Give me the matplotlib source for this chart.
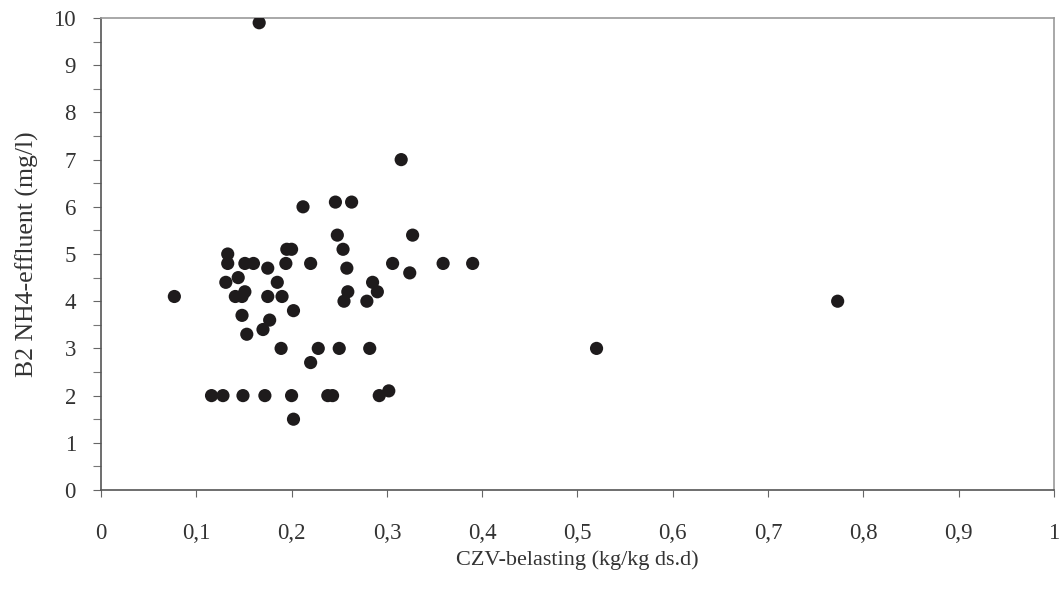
import numpy as np
import matplotlib.pyplot as plt
from matplotlib.ticker import MultipleLocator, FuncFormatter

# CZV-belasting vs B2 NH4-effluent
czv = [0.077, 0.166, 0.212, 0.246, 0.263, 0.315, 0.248, 0.327, 0.254, 0.195,
       0.200, 0.133, 0.133, 0.151, 0.160, 0.175, 0.194, 0.220, 0.258, 0.306,
       0.324, 0.359, 0.390, 0.131, 0.144, 0.185, 0.285, 0.141, 0.151, 0.148,
       0.175, 0.190, 0.290, 0.259, 0.255, 0.279, 0.202, 0.148, 0.177, 0.170,
       0.153, 0.189, 0.228, 0.250, 0.282, 0.220, 0.116, 0.128, 0.149, 0.172,
       0.200, 0.238, 0.243, 0.292, 0.302, 0.202, 0.520, 0.773]
nh4 = [4.1, 9.9, 6.0, 6.1, 6.1, 7.0, 5.4, 5.4, 5.1, 5.1,
       5.1, 5.0, 4.8, 4.8, 4.8, 4.7, 4.8, 4.8, 4.7, 4.8,
       4.6, 4.8, 4.8, 4.4, 4.5, 4.4, 4.4, 4.1, 4.2, 4.1,
       4.1, 4.1, 4.2, 4.2, 4.0, 4.0, 3.8, 3.7, 3.6, 3.4,
       3.3, 3.0, 3.0, 3.0, 3.0, 2.7, 2.0, 2.0, 2.0, 2.0,
       2.0, 2.0, 2.0, 2.0, 2.1, 1.5, 3.0, 4.0]

plt.rcParams['font.family'] = ['Liberation Serif', 'DejaVu Serif']

fig = plt.figure(figsize=(10.64, 5.93), dpi=100)
ax = fig.add_axes([0.0949, 0.1737, 0.8957, 0.7959])

ax.scatter(czv, nh4, s=90, color='#1e1b1c', edgecolors='none', zorder=3)

ax.set_xlim(0, 1)
ax.set_ylim(0, 10)
ax.xaxis.set_major_locator(MultipleLocator(0.1))
ax.yaxis.set_major_locator(MultipleLocator(1))
ax.yaxis.set_minor_locator(MultipleLocator(0.5))

def comma(v, pos):
    s = ('%.1f' % v).rstrip('0').rstrip('.')
    return s.replace('.', ',')

ax.xaxis.set_major_formatter(FuncFormatter(comma))
ax.tick_params(axis='x', which='major', direction='out', length=5, width=0.8,
               color='#666666', pad=19, labelsize=16.5, labelcolor='#333333')
ax.tick_params(axis='y', which='major', direction='out', length=6, width=0.8,
               color='#666666', pad=12, labelsize=16.5, labelcolor='#333333')
ax.tick_params(axis='y', which='minor', direction='out', length=6, width=0.8,
               color='#777777')

for side in ['left', 'bottom']:
    ax.spines[side].set_color('#555555')
    ax.spines[side].set_linewidth(1.2)
for side in ['top', 'right']:
    ax.spines[side].set_color('#999999')
    ax.spines[side].set_linewidth(1.2)

ax.set_xlabel('CZV-belasting (kg/kg ds.d)', fontsize=16, color='#333333', labelpad=4)
ax.set_ylabel('B2 NH4-effluent (mg/l)', fontsize=18.5, color='#333333', labelpad=10)

plt.savefig('out.png', dpi=100, facecolor='white')
